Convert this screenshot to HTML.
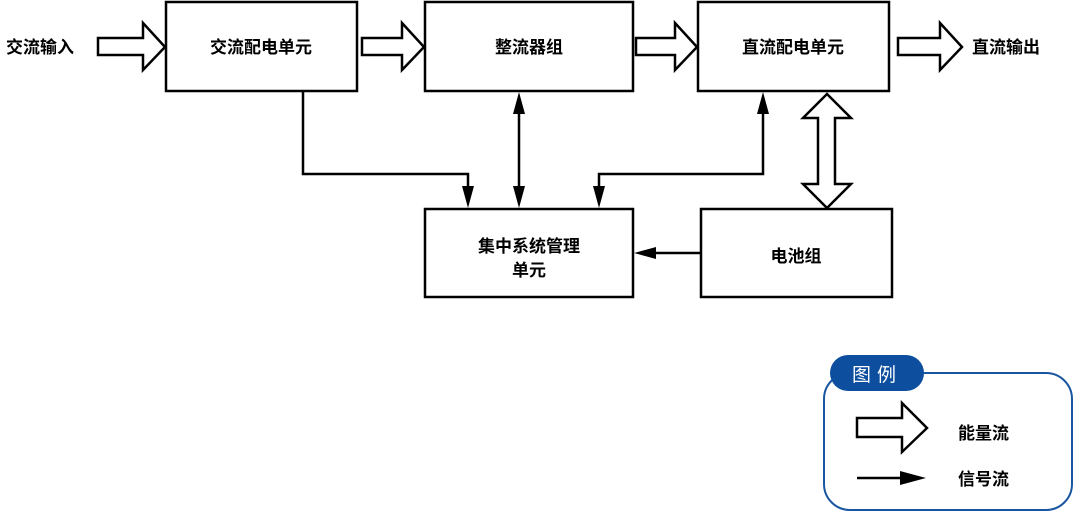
<!DOCTYPE html>
<html><head><meta charset="utf-8"><style>
html,body{margin:0;padding:0;background:#fff;width:1080px;height:513px;overflow:hidden}
svg text{font-family:"Liberation Sans","Noto Sans CJK SC",sans-serif;font-weight:bold;fill:#000}
</style></head><body>
<svg width="1080" height="513" viewBox="0 0 1080 513" xmlns="http://www.w3.org/2000/svg">
<defs>
<marker id="ah" markerWidth="10" markerHeight="10" refX="9" refY="5" orient="auto" markerUnits="userSpaceOnUse" viewBox="0 0 10 10">
<path d="M0,0 L10,5 L0,10 z" fill="#000"/></marker>
</defs>
<g fill="#fff" stroke="#000" stroke-width="2.5">
<rect x="166" y="2" width="191" height="89"/>
<rect x="425" y="2" width="208" height="89"/>
<rect x="698" y="2" width="191" height="89"/>
<rect x="425" y="209" width="208" height="88"/>
<rect x="701" y="209" width="191" height="88"/>
<path d="M98,38 H143 V23 L165,47 L143,70 V55 H98 Z"/>
<path d="M362,38 H402 V23 L424,47 L402,70 V55 H362 Z"/>
<path d="M636,38 H675 V23 L697,47 L675,70 V55 H636 Z"/>
<path d="M898,38 H940 V23 L962,47 L940,70 V55 H898 Z"/>
<path d="M827,94 L851,118 H835 V184 H851 L827,208 L803,184 H818 V118 H803 Z"/>
<path d="M857,418 H902 V403 L927,428 L902,452 V437 H857 Z"/>
</g>
<g stroke="#000" stroke-width="2.5" fill="none">
<path d="M303,91 V174 H468 V190"/>
<path d="M519,110 V190"/>
<path d="M763,110 V174 H599 V190"/>
<path d="M701,253 H652"/>
<path d="M857,478 H900"/>
</g>
<g fill="#000">
<path d="M462,186 L474,186 L468,208 z"/>
<path d="M513,186 L525,186 L519,208 z"/>
<path d="M513,114 L525,114 L519,92 z"/>
<path d="M757,114 L769,114 L763,92 z"/>
<path d="M593,186 L605,186 L599,208 z"/>
<path d="M656,247 L656,259 L634,253 z"/>
<path d="M900,471 L900,485 L926,478 z"/>
</g>
<g font-size="17">
<text x="6" y="53">交流输入</text>
<text x="261" y="53" text-anchor="middle">交流配电单元</text>
<text x="529" y="53" text-anchor="middle">整流器组</text>
<text x="793" y="53" text-anchor="middle">直流配电单元</text>
<text x="972" y="53">直流输出</text>
<text x="529" y="252" text-anchor="middle">集中系统管理</text>
<text x="529" y="276" text-anchor="middle">单元</text>
<text x="796" y="262" text-anchor="middle">电池组</text>
<text x="958" y="439">能量流</text>
<text x="958" y="485">信号流</text>
</g>
<rect x="824" y="373" width="248" height="137" rx="26" fill="none" stroke="#1a56a0" stroke-width="2"/>
<rect x="830" y="355" width="94" height="36" rx="18" fill="#0d4f9e"/>
<text x="877" y="381" text-anchor="middle" font-size="19" style="fill:#fff;font-weight:normal;letter-spacing:6px">图例</text>
</svg>
</body></html>
